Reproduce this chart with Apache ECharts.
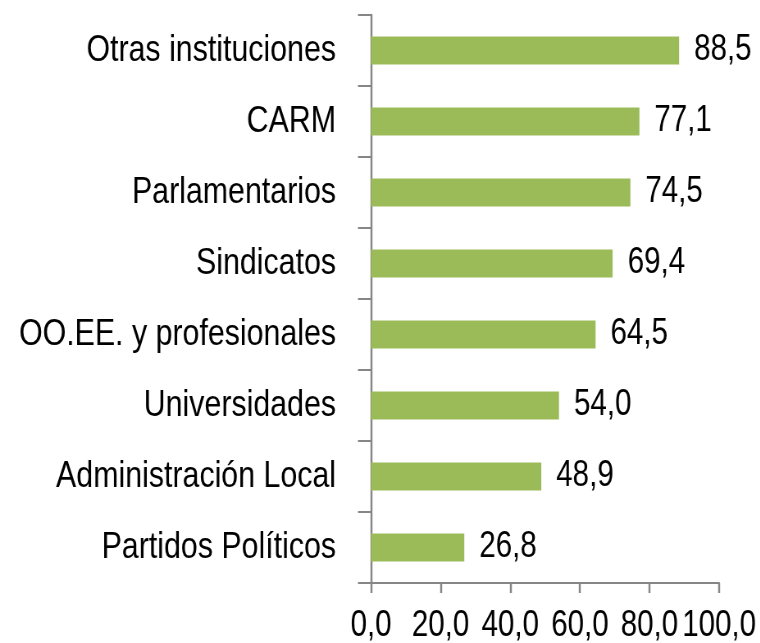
<!DOCTYPE html>
<html>
<head>
<meta charset="utf-8">
<script src="https://cdn.jsdelivr.net/npm/echarts@6/dist/echarts.min.js"></script>
<style>
html,body{margin:0;padding:0;background:#fff;overflow:hidden;}
#wrap{width:760px;height:643px;overflow:hidden;position:relative;}
#chart{width:926.83px;height:643px;transform:scaleX(0.82);transform-origin:0 0;position:absolute;left:0;top:0;}
</style>
</head>
<body>
<div id="wrap"><div id="chart"></div></div>
<script>
var categories = ["Otras instituciones","CARM","Parlamentarios","Sindicatos","OO.EE. y profesionales","Universidades","Administración Local","Partidos Políticos"];
var values = [88.5, 77.1, 74.5, 69.4, 64.5, 54.0, 48.9, 26.8];
var xTicks = [0, 20, 40, 60, 80, 100];

// Arial Narrow look: Liberation Sans compressed horizontally by 0.82
var SX = 0.82;
var FONT = "'Liberation Sans',Arial,sans-serif";
function fmt(v){ return Number(v).toFixed(1).replace('.', ','); }

var chart = echarts.init(document.getElementById('chart'), null, {renderer:'canvas'});
chart.setOption({
  animation: false,
  backgroundColor: '#ffffff',
  grid: {left: 371/SX, right: 41/SX, top: 15, bottom: 60, containLabel: false, outerBoundsMode: 'none'},
  xAxis: {
    type: 'value',
    min: xTicks[0], max: xTicks[xTicks.length-1], interval: 20,
    axisLine: {show: true, lineStyle: {color: '#868686', width: 2}},
    axisTick: {show: true, length: 10, lineStyle: {color: '#868686', width: 2/SX}},
    splitLine: {show: false},
    axisLabel: {fontFamily: FONT, fontSize: 36, color: '#000', margin: 25, hideOverlap: false, showMinLabel: true, showMaxLabel: true, formatter: fmt}
  },
  yAxis: {
    type: 'category',
    data: categories,
    inverse: true,
    axisLine: {show: true, lineStyle: {color: '#868686', width: 2/SX}},
    axisTick: {show: true, length: 13/SX, alignWithLabel: false, lineStyle: {color: '#868686', width: 2}},
    axisLabel: {fontFamily: FONT, fontSize: 37, color: '#000', margin: 35/SX, hideOverlap: false}
  },
  series: [{
    type: 'bar',
    data: values,
    barWidth: 28,
    itemStyle: {color: '#9BBB59'},
    label: {show: true, position: 'right', distance: 15/SX, fontFamily: FONT, fontSize: 36, color: '#000', formatter: function(p){ return fmt(p.value); }}
  }]
});
</script>
</body>
</html>
